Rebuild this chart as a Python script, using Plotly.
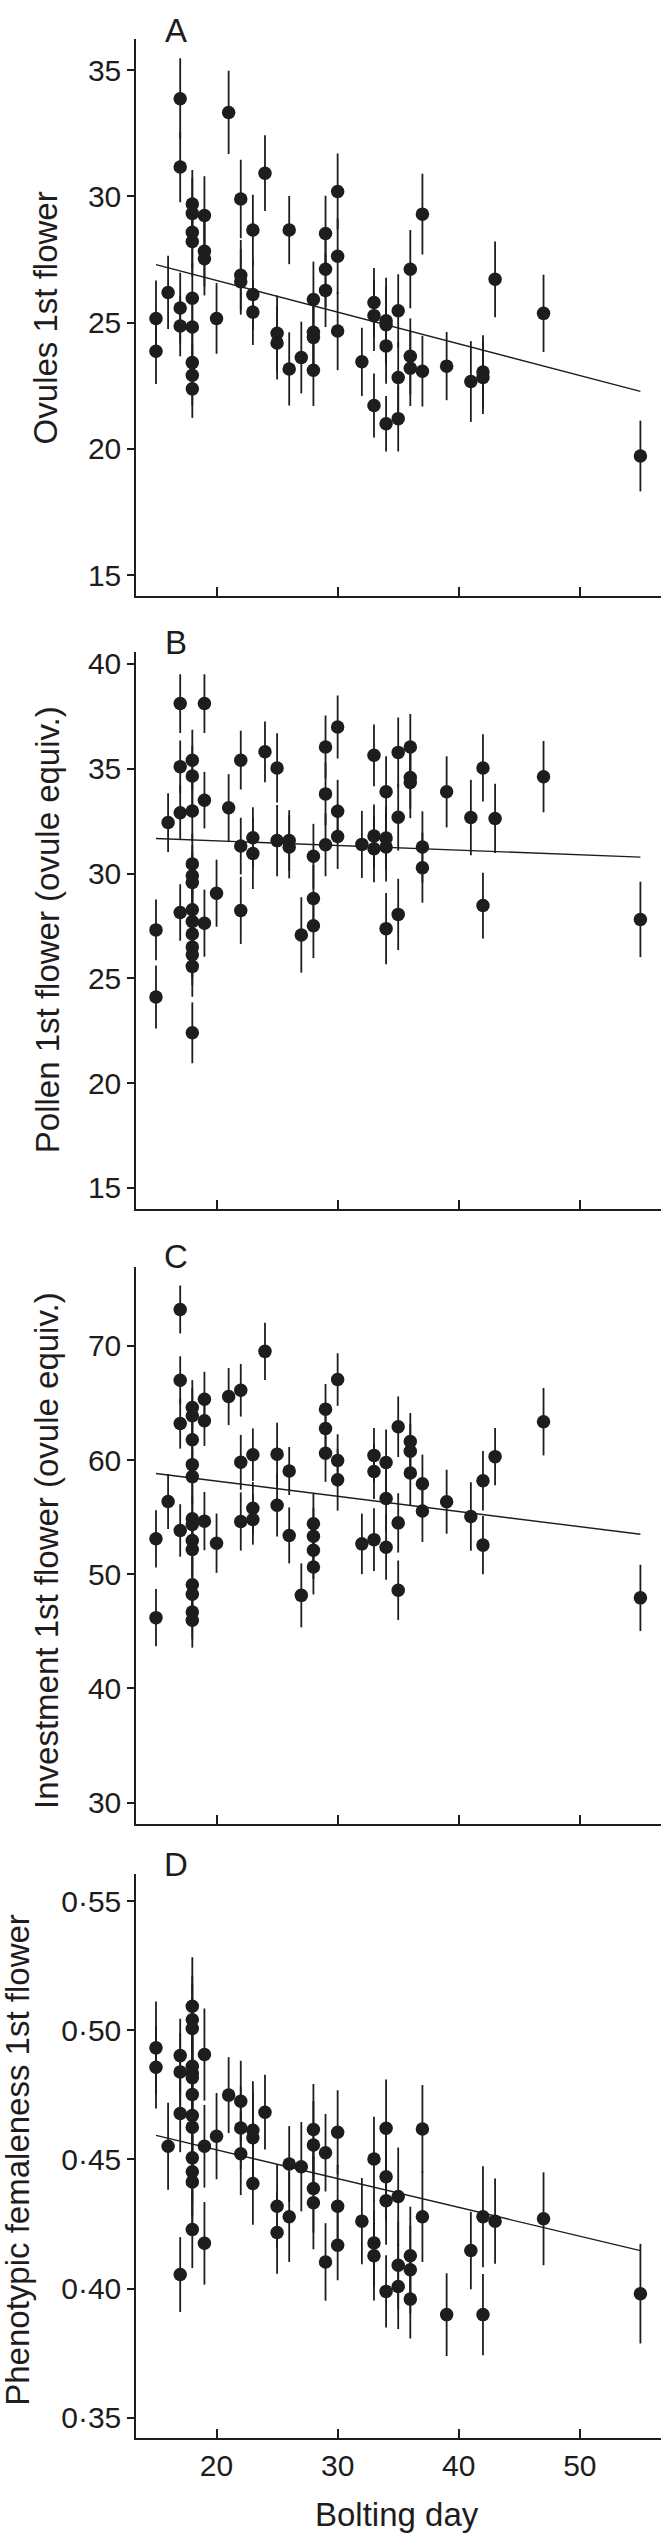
import plotly.graph_objects as go

# ---------------- data ----------------
days_A = [15, 15, 16, 17, 17, 17, 17,
          18, 18, 18, 18, 18, 18, 18, 18, 18,
          19, 19, 19, 20, 21, 22, 22, 22, 23, 23, 23, 24, 25, 25, 26, 26, 27,
          28, 28, 28, 28, 29, 29, 29, 30, 30, 30, 32, 33, 33, 33,
          34, 34, 34, 34, 35, 35, 35, 36, 36, 36, 37, 37, 39, 41, 42, 42, 43, 47, 55]
ovules = [25.17, 23.87, 26.2, 33.87, 31.17, 25.58, 24.87,
          29.7, 29.33, 28.58, 28.22, 25.97, 24.83, 23.42, 22.92, 22.38,
          29.25, 27.83, 27.53, 25.17, 33.33, 29.9, 26.88, 26.62, 28.67, 26.12, 25.42, 30.92, 24.58, 24.2, 28.67, 23.17, 23.62,
          25.92, 24.62, 24.42, 23.12, 28.53, 27.12, 26.28, 30.2, 27.63, 24.67, 23.45, 25.8, 25.28, 21.72,
          25.08, 24.92, 24.08, 21.0, 25.47, 22.83, 21.2, 27.12, 23.67, 23.2, 29.3, 23.08, 23.28, 22.67, 23.05, 22.83, 26.72, 25.37, 19.72]
ovules_err = [1.5, 1.3, 1.45, 1.6, 1.4, 1.4, 1.2,
              1.35, 1.4, 1.4, 1.4, 1.4, 1.4, 1.3, 1.2, 1.15,
              1.55, 1.4, 1.45, 1.4, 1.65, 1.55, 1.4, 1.3, 1.4, 1.4, 1.3, 1.5, 1.5, 1.45, 1.35, 1.45, 1.42,
              1.5, 1.45, 1.45, 1.42, 1.5, 1.5, 1.45, 1.5, 1.5, 1.55, 1.35, 1.37, 1.4, 1.27,
              1.7, 1.5, 1.5, 1.1, 1.45, 1.4, 1.3, 1.55, 1.5, 1.5, 1.6, 1.4, 1.35, 1.6, 1.45, 1.45, 1.5, 1.53, 1.4]

days_B = [15, 15, 16, 17, 17, 17, 17,
          18, 18, 18, 18, 18, 18, 18, 18, 18, 18, 18, 18, 18,
          19, 19, 19, 20, 21, 22, 22, 22, 23, 23, 24, 25, 25, 26, 26, 27,
          28, 28, 28, 29, 29, 29, 30, 30, 30, 32, 33, 33, 33,
          34, 34, 34, 34, 35, 35, 35, 36, 36, 36, 37, 37, 39, 41, 42, 42, 43, 47, 55]
pollen = [27.31, 24.11, 32.43, 38.11, 35.1, 32.9, 28.14,
          35.41, 34.65, 32.98, 30.46, 29.89, 29.57, 28.27, 27.71, 27.11, 26.49, 26.12, 25.57, 22.4,
          38.11, 33.5, 27.63, 29.06, 33.14, 35.41, 31.31, 28.24, 31.71, 30.96, 35.81, 35.04, 31.57, 31.57, 31.27, 27.07,
          30.82, 28.81, 27.51, 36.04, 33.8, 31.37, 36.99, 32.97, 31.77, 31.39, 35.64, 31.79, 31.18,
          33.9, 31.69, 31.27, 27.37, 35.78, 32.69, 28.05, 36.04, 34.58, 34.34, 31.27, 30.28, 33.9, 32.67, 35.04, 28.47, 32.63, 34.62, 27.81]
pollen_err = [1.45, 1.5, 1.4, 1.4, 1.25, 1.3, 1.35,
              1.45, 1.45, 1.45, 1.45, 1.45, 1.45, 1.45, 1.45, 1.45, 1.45, 1.45, 1.45, 1.45,
              1.4, 1.35, 1.6, 1.6, 1.6, 1.4, 1.35, 1.6, 1.45, 1.7, 1.45, 1.65, 1.7, 1.45, 1.5, 1.8,
              1.55, 1.6, 1.55, 1.5, 1.5, 1.5, 1.5, 1.5, 1.55, 1.6, 1.47, 1.5, 1.6,
              1.7, 1.5, 1.65, 1.7, 1.67, 1.6, 1.7, 1.57, 1.5, 1.7, 1.7, 1.67, 1.7, 1.8, 1.6, 1.57, 1.65, 1.7, 1.8]

days_C = [15, 15, 16, 17, 17, 17, 17,
          18, 18, 18, 18, 18, 18, 18, 18, 18, 18, 18, 18, 18,
          19, 19, 19, 20, 21, 22, 22, 22, 23, 23, 23, 24, 25, 25, 26, 26, 27,
          28, 28, 28, 28, 29, 29, 29, 30, 30, 30, 32, 33, 33, 33,
          34, 34, 34, 35, 35, 35, 36, 36, 36, 37, 37, 39, 41, 42, 42, 43, 47, 55]
investment = [53.1, 46.2, 56.37, 73.19, 66.99, 63.2, 53.83,
              64.6, 63.88, 61.78, 59.6, 58.55, 54.85, 54.36, 52.96, 52.17, 49.08, 48.24, 46.7, 45.97,
              65.33, 63.44, 54.65, 52.72, 65.56, 66.11, 59.8, 54.62, 60.47, 55.78, 54.79, 69.52, 60.52, 56.05, 59.04, 53.4, 48.15,
              54.43, 53.32, 52.1, 50.63, 64.46, 62.77, 60.59, 67.05, 59.96, 58.27, 52.66, 60.41, 59.0, 53.03,
              59.78, 56.64, 52.36, 62.92, 54.5, 48.6, 61.62, 60.77, 58.86, 57.93, 55.53, 56.35, 55.06, 58.19, 52.55, 60.3, 63.36, 47.93]
investment_err = [2.5, 2.5, 2.4, 2.1, 2.1, 2.2, 2.3,
                  2.4, 2.4, 2.4, 2.4, 2.4, 2.4, 2.4, 2.4, 2.4, 2.4, 2.4, 2.4, 2.4,
                  2.4, 2.2, 2.55, 2.6, 2.5, 2.3, 2.4, 2.55, 2.3, 2.3, 2.2, 2.5, 2.75, 2.75, 2.1, 2.45, 2.8,
                  2.65, 2.5, 2.5, 2.4, 2.2, 2.2, 2.5, 2.3, 2.3, 2.7, 2.65, 2.4, 2.4, 2.75,
                  2.9, 2.9, 2.85, 2.65, 2.6, 2.6, 2.5, 2.4, 2.8, 2.55, 2.7, 2.8, 3.0, 2.6, 2.55, 2.5, 2.95, 2.9]

days_D = [15, 15, 16, 17, 17, 17, 17,
          18, 18, 18, 18, 18, 18, 18, 18, 18, 18, 18, 18, 18,
          19, 19, 19, 20, 21, 22, 22, 22, 23, 23, 23, 24, 25, 25, 26, 26, 27,
          28, 28, 28, 28, 29, 29, 30, 30, 30, 32, 33, 33, 33,
          34, 34, 34, 34, 35, 35, 35, 36, 36, 36, 37, 37, 39, 41, 42, 42, 43, 47, 55]
femaleness = [0.4932, 0.4857, 0.4551, 0.4902, 0.4839, 0.4678, 0.4054,
              0.5093, 0.5041, 0.5007, 0.4861, 0.4835, 0.4816, 0.4751, 0.4670, 0.4625, 0.4506, 0.4452, 0.4413, 0.4229,
              0.4906, 0.4551, 0.4175, 0.4590, 0.4749, 0.4725, 0.4622, 0.4522, 0.4613, 0.4584, 0.4407, 0.4683, 0.4319, 0.4217, 0.4482, 0.4278, 0.4472,
              0.4616, 0.4556, 0.4387, 0.4332, 0.4526, 0.4103, 0.4605, 0.4319, 0.4168, 0.4261, 0.4502, 0.4176, 0.4127,
              0.4621, 0.4433, 0.4340, 0.3989, 0.4356, 0.4090, 0.4008, 0.4127, 0.4073, 0.3959, 0.4618, 0.4278, 0.3899, 0.4147, 0.4278, 0.3899, 0.4261, 0.4270, 0.3980]
femaleness_err = [0.018, 0.016, 0.0168, 0.0143, 0.015, 0.015, 0.0145,
                  0.019, 0.017, 0.017, 0.017, 0.017, 0.017, 0.017, 0.017, 0.017, 0.017, 0.017, 0.017, 0.015,
                  0.0178, 0.016, 0.016, 0.0167, 0.0147, 0.0157, 0.016, 0.016, 0.019, 0.018, 0.016, 0.0145, 0.016, 0.016, 0.0147, 0.0175, 0.0173,
                  0.0176, 0.017, 0.017, 0.018, 0.015, 0.015, 0.0163, 0.016, 0.0136, 0.0167, 0.0163, 0.017, 0.0173,
                  0.0188, 0.017, 0.017, 0.014, 0.019, 0.017, 0.0165, 0.019, 0.017, 0.0152, 0.017, 0.0175, 0.016, 0.015, 0.0196, 0.0157, 0.0165, 0.018, 0.0193]

# regression lines (end points)
fit_days = [15, 55]
fit_ovules = [27.3, 22.28]
fit_pollen = [31.67, 30.78]
fit_investment = [58.82, 53.5]
fit_femaleness = [0.4593, 0.4147]

y_titles = ["Ovules 1st flower", "Pollen 1st flower (ovule equiv.)",
            "Investment 1st flower (ovule equiv.)", "Phenotypic femaleness 1st flower"]
panel_letters = ["A", "B", "C", "D"]
x_ticks = [20, 30, 40, 50]
y_ticks_A = [15, 20, 25, 30, 35]
y_ticks_B = [15, 20, 25, 30, 35, 40]
y_ticks_C = [30, 40, 50, 60, 70]
y_ticks_D = [0.35, 0.40, 0.45, 0.50, 0.55]
y_ticktext_D = ["0·35", "0·40", "0·45", "0·50", "0·55"]

# ---------------- layout ----------------
W, H = 661, 2537
INK = "#1e1c1c"
FONT = "Liberation Sans, Arial, Helvetica, sans-serif"

def py(px):  # pixel from top -> paper fraction
    return 1 - px / H

panels = [
    dict(x=days_A, y=ovules, e=ovules_err, fy=fit_ovules, top=34, bot=592.3,
         rng=[14.17, 36.24], tv=y_ticks_A, tt=[str(v) for v in y_ticks_A]),
    dict(x=days_B, y=pollen, e=pollen_err, fy=fit_pollen, top=648.5, bot=1206.2,
         rng=[14.0, 40.56], tv=y_ticks_B, tt=[str(v) for v in y_ticks_B]),
    dict(x=days_C, y=investment, e=investment_err, fy=fit_investment, top=1264.6, bot=1822.3,
         rng=[28.15, 76.9], tv=y_ticks_C, tt=[str(v) for v in y_ticks_C]),
    dict(x=days_D, y=femaleness, e=femaleness_err, fy=fit_femaleness, top=1872.5, bot=2437.6,
         rng=[0.3422, 0.5606], tv=y_ticks_D, tt=y_ticktext_D),
]

fig = go.Figure()
layout = dict(
    width=W, height=H, margin=dict(l=0, r=0, t=0, b=0),
    paper_bgcolor="white", plot_bgcolor="white", showlegend=False,
    font=dict(family=FONT, color=INK, size=30),
)
annotations = []
title_x = [45, 47, 47, 18]
title_y = [314, 927, 1549, 2159]
letter_y = [26, 639, 1254, 1863]

for i, p in enumerate(panels):
    n = "" if i == 0 else str(i + 1)
    xa, ya = "x" + n, "y" + n
    fig.add_trace(go.Scatter(
        x=p["x"], y=p["y"], mode="markers", xaxis=xa, yaxis=ya,
        marker=dict(size=13.5, color=INK, line=dict(width=0)),
        error_y=dict(type="data", array=p["e"], visible=True, color=INK, thickness=1.8, width=0),
        hoverinfo="skip"))
    fig.add_trace(go.Scatter(
        x=fit_days, y=p["fy"], mode="lines", xaxis=xa, yaxis=ya,
        line=dict(color=INK, width=1.4), hoverinfo="skip"))
    layout["xaxis" + n] = dict(
        domain=[136 / W, 1], range=[13.35, 56.7], anchor=ya,
        showgrid=False, zeroline=False, showline=True, linecolor=INK, linewidth=1.5,
        ticks="inside", ticklen=9, tickwidth=1.5, tickcolor=INK,
        tickvals=x_ticks, ticktext=[str(v) for v in x_ticks],
        showticklabels=(i == 3), tickfont=dict(size=30, family=FONT, color=INK))
    layout["yaxis" + n] = dict(
        domain=[py(p["bot"]), py(p["top"])], range=p["rng"], anchor=xa,
        showgrid=False, zeroline=False, showline=True, linecolor=INK, linewidth=1.5,
        ticks="outside", ticklen=7, tickwidth=1.5, tickcolor=INK,
        tickvals=p["tv"], ticktext=p["tt"], tickfont=dict(size=30, family=FONT, color=INK))
    annotations.append(dict(
        text=y_titles[i], xref="paper", yref="paper", x=title_x[i] / W, y=py(title_y[i]),
        xanchor="center", yanchor="middle", textangle=-90, showarrow=False,
        font=dict(size=33, family=FONT, color=INK)))
    annotations.append(dict(
        text=panel_letters[i], xref="paper", yref="paper", x=176 / W, y=py(letter_y[i]),
        xanchor="center", yanchor="middle", showarrow=False,
        font=dict(size=33, family=FONT, color=INK)))

annotations.append(dict(
    text="Bolting day", xref="paper", yref="paper", x=397 / W, y=py(2514),
    xanchor="center", yanchor="middle", showarrow=False,
    font=dict(size=33, family=FONT, color=INK)))

layout["annotations"] = annotations
fig.update_layout(**layout)
fig.write_html("out.html",
               config={"displayModeBar": False},
               post_script="document.body.style.margin='0';document.body.style.padding='0';")
